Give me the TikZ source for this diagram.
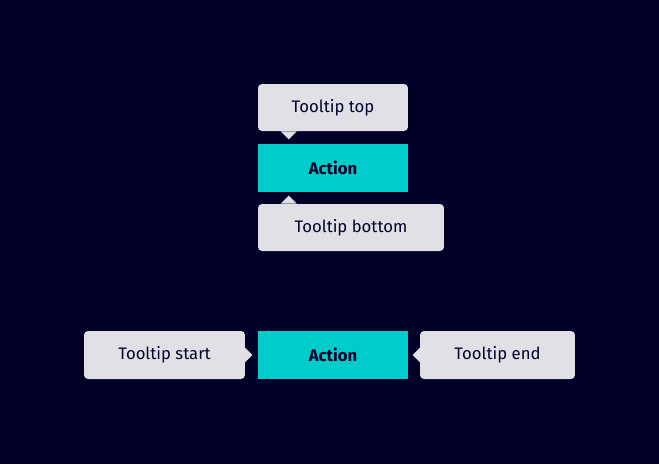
\documentclass[tikz,border=0pt]{standalone}
\usepackage{fontspec}
\setmainfont{Fira Sans}
\usetikzlibrary{positioning}
\definecolor{navy}{HTML}{000028}
\definecolor{teal}{HTML}{00CCCC}
\definecolor{tipgray}{HTML}{E0E0E6}
\begin{document}
\begin{tikzpicture}[x=0.02cm,y=-0.02cm,
  action/.style = {fill=teal,text=navy,font=\fontsize{9.5}{11}\selectfont\bfseries,
        minimum width=3cm,minimum height=0.96cm,inner sep=0pt},
  tip/.style = {fill=tipgray,text=navy,rounded corners=0.08cm,font=\fontsize{9.5}{11}\selectfont,
        minimum height=0.94cm,inner sep=0pt}]
 \fill[navy] (0,0) rectangle (659,464);
 % vertical tooltips
 \node[action] (act1) at (333,168) {Action};
 \node[tip,minimum width=3cm] (ttop) at (333,107.5) {Tooltip top};
 \node[tip,minimum width=3.72cm] (tbot) at (351,227.5) {Tooltip bottom};
 \fill[tipgray] ([xshift=0.46cm]ttop.south west) -- ++(16,0) -- ++(-8,8) -- cycle;
 \fill[tipgray] ([xshift=0.46cm]tbot.north west) -- ++(16,0) -- ++(-8,-8) -- cycle;
 % horizontal tooltips
 \node[action] (act2) at (333,355) {Action};
 \node[tip,minimum width=3.22cm,minimum height=0.96cm] (tstart) at (164.5,355) {Tooltip start};
 \node[tip,minimum width=3.1cm,minimum height=0.96cm] (tend) at (497.5,355) {Tooltip end};
 \fill[tipgray] (tstart.east) ++(-1,-8) -- ++(8,8) -- ++(-8,8) -- cycle;
 \fill[tipgray] (tend.west) ++(1,-8) -- ++(-8,8) -- ++(8,8) -- cycle;
\end{tikzpicture}
\end{document}
